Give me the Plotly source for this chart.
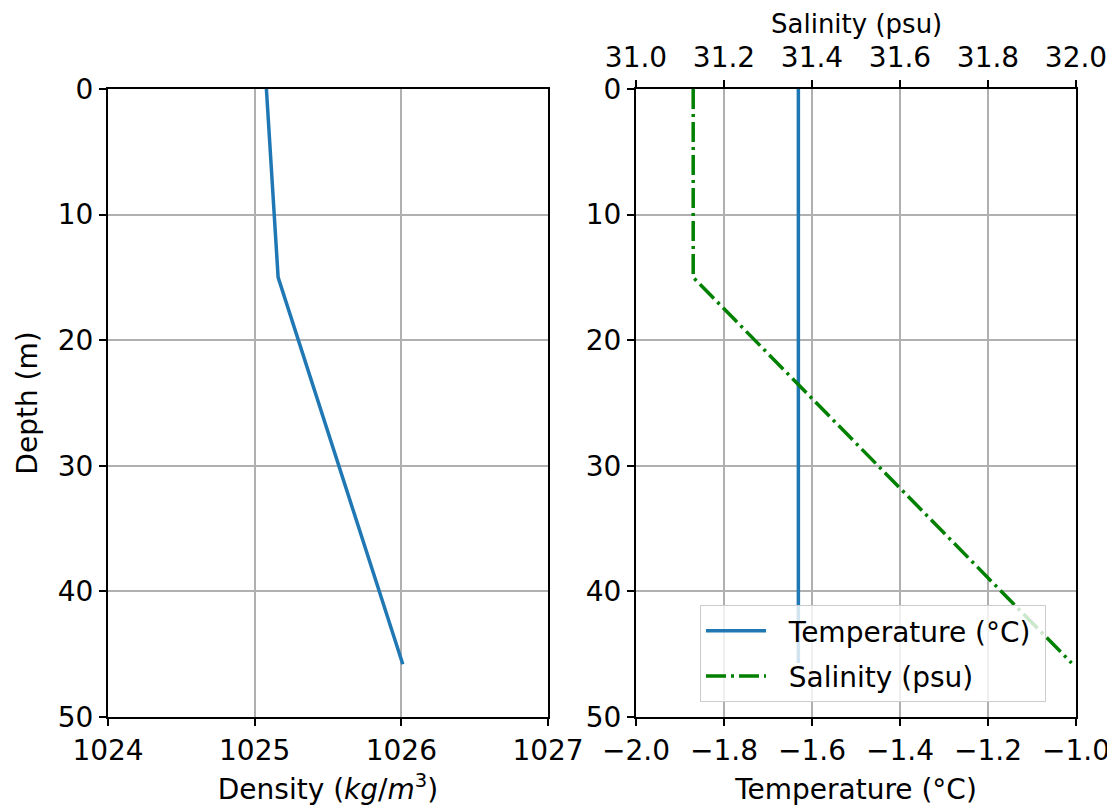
import plotly.graph_objects as go

# Data
depth_density = [0, 15, 45.8]
density = [1025.08, 1025.16, 1026.01]

depth_ts = [0, 15, 45.7]
temperature = [-1.631, -1.631, -1.631]
salinity = [31.13, 31.13, 31.99]

density_ticks = [1024, 1025, 1026, 1027]
temp_ticks = [-2.0, -1.8, -1.6, -1.4, -1.2, -1.0]
temp_ticklabels = ["\u22122.0", "\u22121.8", "\u22121.6", "\u22121.4", "\u22121.2", "\u22121.0"]
sal_ticks = [31.0, 31.2, 31.4, 31.6, 31.8, 32.0]
depth_ticks = [0, 10, 20, 30, 40, 50]

FONT = "DejaVu Sans"
FS = 28
BLUE = "#1f77b4"
GREEN = "#008000"
GRID = "#b0b0b0"

fig = go.Figure()

fig.add_trace(go.Scatter(x=density, y=depth_density, mode="lines",
                         line=dict(color=BLUE, width=3.5), xaxis="x", yaxis="y",
                         showlegend=False))
fig.add_trace(go.Scatter(x=temperature, y=depth_ts, mode="lines",
                         line=dict(color=BLUE, width=3.5), xaxis="x2", yaxis="y2",
                         legendgroup="a",
                         name="\u00a0\u00a0Temperature (\u00b0C)\u00a0"))
fig.add_trace(go.Scatter(x=salinity, y=depth_ts, mode="lines",
                         line=dict(color=GREEN, width=3.5, dash="20px,5px,3px,5px"),
                         xaxis="x3", yaxis="y2", legendgroup="b",
                         name="\u00a0\u00a0Salinity (psu)"))

W, H = 1115, 812
OFF = 8  # page body margin offset
xd1 = [(108 - OFF) / W, (548 - OFF) / W]
xd2 = [(636 - OFF) / W, (1076 - OFF) / W]
yd = [1 - (717 - OFF) / H, 1 - (89 - OFF) / H]

common = dict(showline=True, linecolor="black", linewidth=2, mirror=True,
              ticks="outside", ticklen=7, tickwidth=2, tickcolor="black",
              showgrid=True, gridcolor=GRID, gridwidth=2, zeroline=False,
              automargin=False,
              tickfont=dict(family=FONT, size=FS, color="black"))

fig.update_layout(
    width=W, height=H,
    margin=dict(l=0, r=0, t=0, b=0, autoexpand=False),
    paper_bgcolor="white", plot_bgcolor="white",
    font=dict(family=FONT, size=FS, color="black"),
    xaxis=dict(domain=xd1, anchor="y", range=[1024, 1027], tickvals=density_ticks,
               title=dict(text="Density (<i>kg</i>/<i>m</i><sup>3</sup>)",
                          font=dict(family=FONT, size=FS), standoff=14),
               **common),
    yaxis=dict(domain=yd, anchor="x", range=[50, 0], tickvals=depth_ticks,
               title=dict(text="Depth (m)", font=dict(family=FONT, size=FS), standoff=12),
               **common),
    xaxis2=dict(domain=xd2, anchor="y2", range=[-2, -1], tickvals=temp_ticks,
                ticktext=temp_ticklabels,
                title=dict(text="Temperature (\u00b0C)", font=dict(family=FONT, size=FS), standoff=14),
                **common),
    yaxis2=dict(domain=yd, anchor="x2", range=[50, 0], tickvals=depth_ticks, **common),
    xaxis3=dict(overlaying="x2", anchor="y2", side="top", range=[31, 32],
                tickvals=sal_ticks, tickformat=".1f",
                showline=True, linecolor="black", linewidth=2,
                ticks="outside", ticklen=7, tickwidth=2, tickcolor="black",
                showgrid=False, zeroline=False, automargin=False,
                ticklabelstandoff=2,
                tickfont=dict(family=FONT, size=FS, color="black")),
    legend=dict(x=(700 - OFF) / W, y=1 - (605 - OFF) / H, xanchor="left", yanchor="top",
                bgcolor="rgba(255,255,255,0.8)", bordercolor="#cccccc", borderwidth=1,
                font=dict(family=FONT, size=FS, color="black"),
                itemwidth=60, tracegroupgap=6),
    annotations=[dict(text="Salinity (psu)", xref="paper", yref="paper",
                      x=(xd2[0] + xd2[1]) / 2, y=1.0,
                      xanchor="center", yanchor="top", showarrow=False, borderpad=0,
                      font=dict(family=FONT, size=26, color="black"))],
)

fig.write_html("out.html")
